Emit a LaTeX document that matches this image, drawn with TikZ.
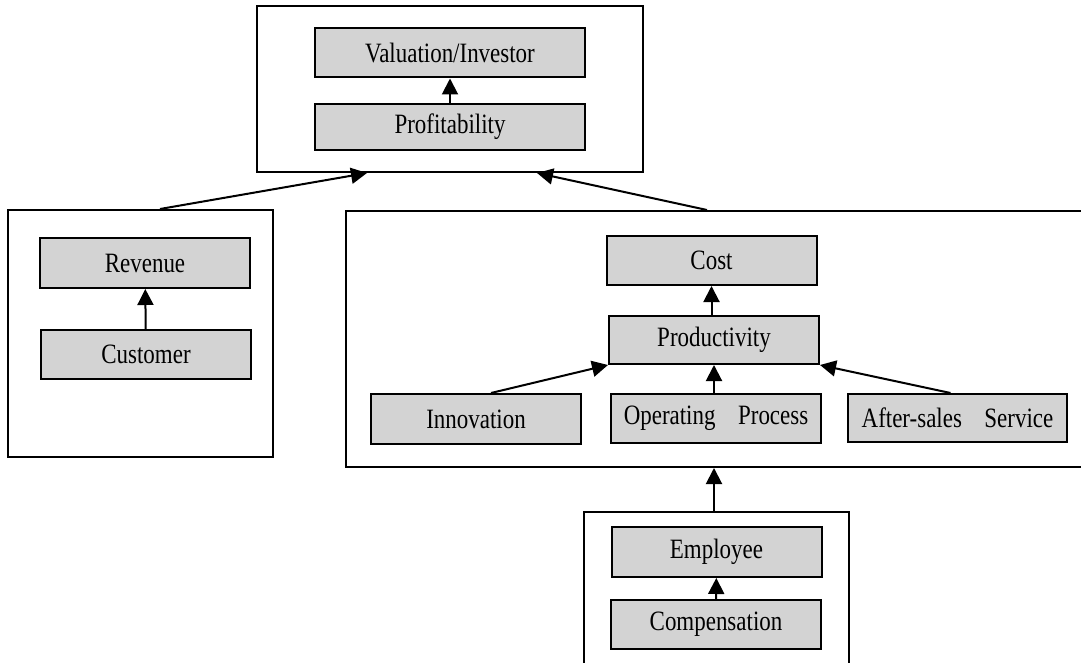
\documentclass[tikz,border=0pt]{standalone}
\usepackage{fontspec}
\setmainfont[FakeStretch=0.82]{Liberation Serif}
\usetikzlibrary{arrows.meta,calc}
\definecolor{bxgrey}{RGB}{211,211,211}
\tikzset{
  frame/.style={draw,line width=1pt,fill=white,rectangle,inner sep=0pt},
  item/.style={draw,line width=1pt,fill=bxgrey,rectangle,inner sep=0pt,
               minimum width=105pt,minimum height=24.5pt,
               font=\fontsize{14}{16}\selectfont},
  ar/.style={-{Triangle[length=8pt,width=8pt]},line width=1pt},
}
\begin{document}
\begin{tikzpicture}[x=0.5pt,y=-0.5pt]
    \clip (0,0) rectangle (1081,663);
    \fill[white] (0,0) rectangle (1081,663);
    % outer frames
    \node[frame,minimum width=193pt,minimum height=83pt] (topf) at (450,89) {};
    \node[frame,minimum width=132.5pt,minimum height=123.5pt] (leftf) at (140.5,333.5) {};
    \node[frame,minimum width=377pt,minimum height=128pt] (rightf) at (723,339) {};
    \node[frame,minimum width=132.5pt,minimum height=94pt] (botf) at (716.5,606) {};
    % top frame
    \node[item,minimum width=135pt] (val) at (450,53) {Valuation/Investor};
    \node[item,minimum width=135pt,minimum height=23pt] (prof) at (450,127) {Profitability};
    % left frame
    \node[item,minimum height=25pt] (rev) at (145,263) {Revenue};
    \node[item] (cust) at (146,354.5) {Customer};
    % right frame
    \node[item] (cost) at (711.5,260.5) {Cost};
    \node[item,minimum height=24pt] (prod) at (714,340) {Productivity};
    \node[item,minimum height=25pt] (inno) at (476,419) {Innovation};
    \node[item] (oper) at (716,418.5) {Operating\hspace{0.6em} Process};
    \node[item,minimum width=109.5pt,minimum height=24pt] (after) at (957.5,418) {After-sales\hspace{0.6em} Service};
    % bottom frame
    \node[item,minimum height=25pt] (emp) at (716.5,552) {Employee};
    \node[item] (comp) at (716,624.5) {Compensation};
    % connectors
    \draw[ar] (prof) -- (val);
    \draw[ar] (cust) -- (rev);
    \draw[ar] (prod.north -| cost) -- (cost);
    \draw[ar] (oper.north -| prod) -- (prod);
    \draw[ar] ($(inno.north)+(15,0)$) -- (prod.south west);
    \draw[ar] ($(after.north)+(-7,0)$) -- (prod.south east);
    \draw[ar] (comp) -- (emp);
    \draw[ar] (botf.north -| prod) -- (rightf.south -| prod);
    \draw[ar] ($(leftf.north)+(19.5,0)$) -- ($(topf.south)+(-83,0)$);
    \draw[ar] ($(rightf.north)+(-16,0)$) -- ($(topf.south)+(87,0)$);
\end{tikzpicture}
\end{document}
